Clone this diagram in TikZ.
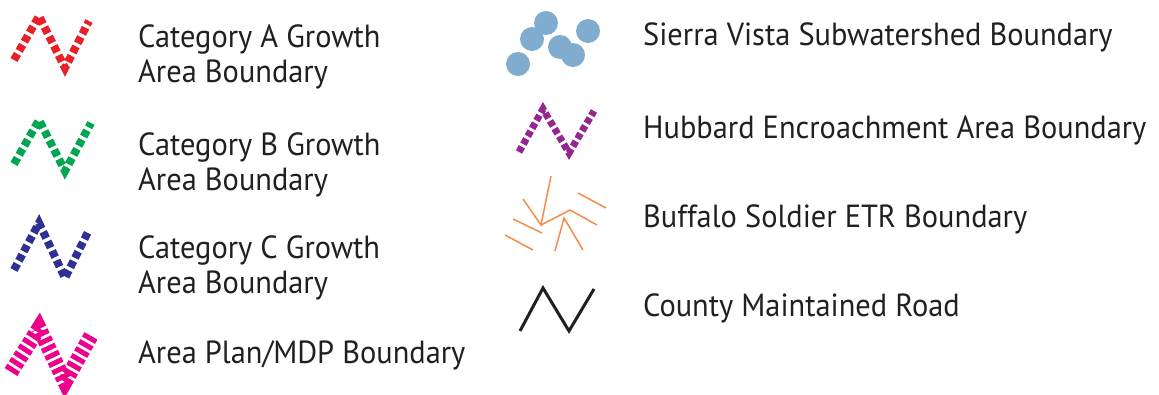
\documentclass[tikz,border=0pt]{standalone}
\usepackage{xcolor}
\usepackage{fontspec}
\setmainfont{PT Sans}[FakeStretch=0.95]
\usepackage{tikz}

\definecolor{catA}{RGB}{232,32,42}
\definecolor{catB}{RGB}{0,166,81}
\definecolor{catC}{RGB}{46,49,146}
\definecolor{mdp}{RGB}{236,0,140}
\definecolor{hubbard}{RGB}{147,39,143}
\definecolor{water}{RGB}{127,172,207}
\definecolor{etr}{RGB}{245,139,76}
\definecolor{ink}{RGB}{35,31,32}

\begin{document}
\begin{tikzpicture}[x=1pt,y=-1pt,
    label/.style={anchor=base west,inner sep=0pt,align=left,text=ink,
        font=\fontsize{32}{35}\selectfont},
    growth/.style={line width=8pt,dash pattern=on 7pt off 3.5pt,miter limit=10}]
    \useasboundingbox (0,0) rectangle (1159,394);

    % Category A
    \draw[growth,catA] (14,60) -- (39,16) -- (65,68) -- (89,21);
    \node[label] (catAtext) at (138,82) {Category A Growth\\Area Boundary};

    % Category B
    \draw[growth,catB] (14,164) -- (39,120) -- (65,171) -- (91,123);
    \node[label] (catBtext) at (138,190) {Category B Growth\\Area Boundary};

    % Category C
    \draw[growth,catC] (14,270) -- (39,223) -- (65,278) -- (89,230);
    \node[label] (catCtext) at (138,293) {Category C Growth\\Area Boundary};

    % Area plan / MDP
    \draw[mdp,line width=15pt,dash pattern=on 5pt off 3pt,miter limit=10]
        (11,372) -- (39,328) -- (65,382) -- (92,334);
    \node[label] (mdptext) at (138,363) {Area Plan/MDP Boundary};

    % Subwatershed dots
    \foreach \cx/\cy in {546/23,532/39,518/64,560/47,573/55,588/31}
        \fill[water] (\cx,\cy) circle (12);
    \node[label] (watertext) at (643,45) {Sierra Vista Subwatershed Boundary};

    % Hubbard encroachment
    \draw[hubbard,line width=7pt,dash pattern=on 6pt off 3pt,miter limit=10]
        (519,152) -- (543,109) -- (569,153) -- (594,111);
    \node[label] (hubbardtext) at (643,138) {Hubbard Encroachment Area Boundary};

    % Buffalo Soldier ETR
    \begin{scope}[etr,line width=1.5pt]
        \draw (551,176) -- (541,225) -- (523,199);
        \draw (541,225) -- (570,210) -- (597,225);
        \draw (578,193) -- (606,208);
        \draw (513,219) -- (542,233);
        \draw (505,235) -- (533,250);
        \draw (555,251) -- (564,218) -- (583,250);
    \end{scope}
    \node[label] (etrtext) at (643,227) {Buffalo Soldier ETR Boundary};

    % County road
    \draw[ink,line width=3pt] (520,331) -- (543,288) -- (569,331) -- (594,289);
    \node[label] (roadtext) at (643,316) {County Maintained Road};
\end{tikzpicture}
\end{document}
